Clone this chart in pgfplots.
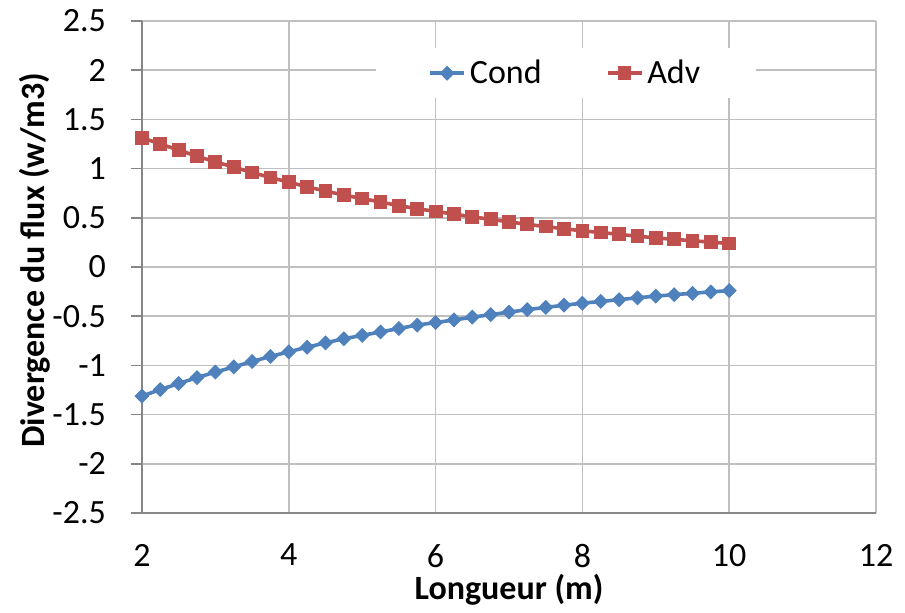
\documentclass[border=0pt]{standalone}
\usepackage{pgfplots}
\pgfplotsset{compat=1.18}
\usepackage{fontspec}
\setmainfont{Carlito}
\definecolor{cblue}{HTML}{4F81BD}
\definecolor{cred}{HTML}{C0504D}
\definecolor{gridc}{HTML}{BFBFBF}
\definecolor{axc}{HTML}{868686}
\newcommand{\fs}{\fontsize{17bp}{20bp}\selectfont}
\begin{document}
\begin{tikzpicture}
\begin{axis}[
  scale only axis, width=367bp, height=246bp,
  xmin=2, xmax=12, ymin=-2.5, ymax=2.5,
  axis lines=left, axis line style={-, draw=axc, line width=0.8bp},
  xtick={2,4,6,8,10,12}, xticklabels={2,4,6,8,10,12},
  ytick={-2.5,-2,-1.5,-1,-0.5,0,0.5,1,1.5,2,2.5},
  yticklabels={-2.5,-2,-1.5,-1,-0.5,0,0.5,1,1.5,2,2.5},
  grid=major, major grid style={draw=gridc, line width=0.75bp},
  x tick style={draw=none},
  y tick style={draw=axc, line width=0.75bp},
  tick align=outside, major tick length=5.5bp,
  ticklabel style={font=\fs, text=black},
  yticklabel style={xshift=-9bp},
  xticklabel style={yshift=-6.5bp},
  xlabel={\bfseries Longueur (m)},
  ylabel={\bfseries Divergence du flux (w/m3)},
  xlabel style={font=\fs, at={(axis description cs:0.5,0)}, anchor=base, yshift=-43bp},
  ylabel style={font=\fs, at={(axis description cs:-0.1322,0.514)}, anchor=base},
  clip=false,
  legend style={draw=none, fill=white, font=\fs, legend columns=2,
    at={(axis description cs:0.578,0.894)}, anchor=center,
    inner xsep=26bp, inner ysep=4bp,
    /tikz/every even column/.append style={column sep=30bp}},
]
\addplot[color=cblue, line width=1.8bp, mark=square*, mark size=2.4bp, mark options={rotate=45, fill=cblue, draw=cblue, line width=0.5bp}] coordinates {
(2,-1.311) (2.25,-1.246) (2.5,-1.184) (2.75,-1.124) (3,-1.068) (3.25,-1.016) (3.5,-0.960) (3.75,-0.909)
(4,-0.862) (4.25,-0.815) (4.5,-0.771) (4.75,-0.729) (5,-0.695) (5.25,-0.660) (5.5,-0.625) (5.75,-0.590)
(6,-0.565) (6.25,-0.538) (6.5,-0.510) (6.75,-0.484) (7,-0.459) (7.25,-0.433) (7.5,-0.411) (7.75,-0.388)
(8,-0.368) (8.25,-0.350) (8.5,-0.332) (8.75,-0.313) (9,-0.296) (9.25,-0.281) (9.5,-0.267) (9.75,-0.253) (10,-0.240)
};
\addlegendentry{Cond}
\addplot[color=cred, line width=1.8bp, mark=square*, mark size=3.2bp, mark options={fill=cred, draw=cred, line width=0.5bp}] coordinates {
(2,1.314) (2.25,1.250) (2.5,1.188) (2.75,1.126) (3,1.068) (3.25,1.016) (3.5,0.960) (3.75,0.910)
(4,0.862) (4.25,0.815) (4.5,0.772) (4.75,0.730) (5,0.696) (5.25,0.660) (5.5,0.624) (5.75,0.592)
(6,0.565) (6.25,0.538) (6.5,0.510) (6.75,0.484) (7,0.459) (7.25,0.433) (7.5,0.411) (7.75,0.388)
(8,0.368) (8.25,0.350) (8.5,0.332) (8.75,0.313) (9,0.296) (9.25,0.281) (9.5,0.267) (9.75,0.253) (10,0.238)
};
\addlegendentry{Adv}
\end{axis}
\pgfresetboundingbox
\path ([shift={(-71bp,-50bp)}]current axis.south west) rectangle ([shift={(14.5bp,10.5bp)}]current axis.north east);
\end{tikzpicture}
\end{document}
